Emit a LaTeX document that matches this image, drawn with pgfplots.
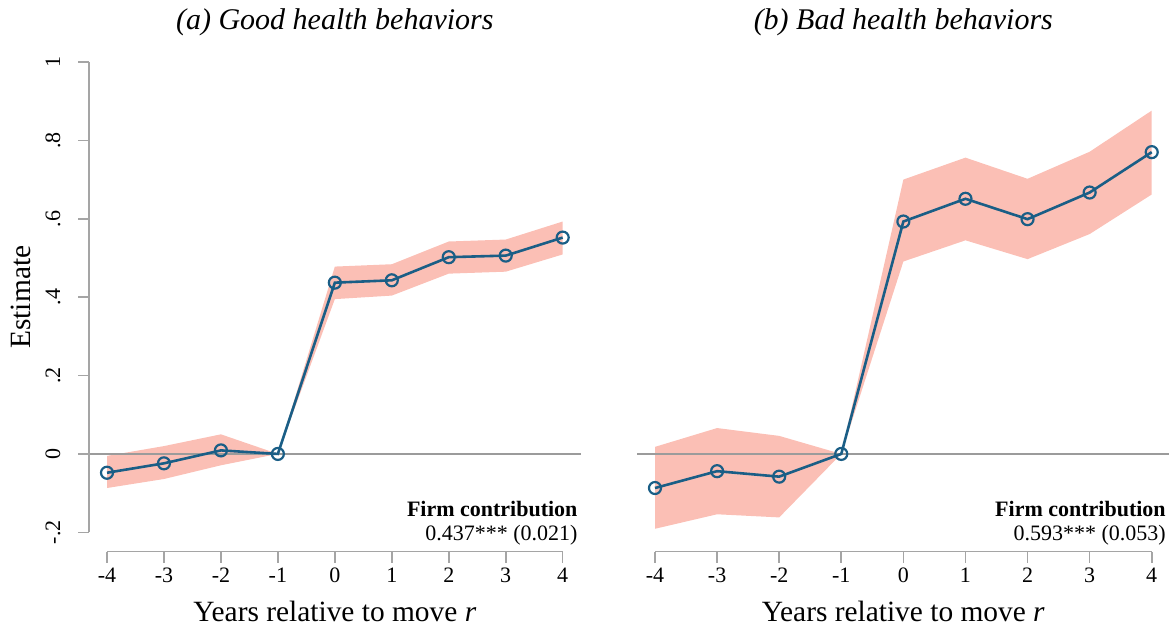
\documentclass[border=0pt]{standalone}
\usepackage{fontspec}
\setmainfont{Liberation Serif}
\usepackage{pgfplots}
\pgfplotsset{compat=1.18}
\usepackage{pgfplotstable}
\usepgfplotslibrary{fillbetween}

\definecolor{linecol}{RGB}{26,94,134}
\definecolor{bandcol}{RGB}{251,191,181}
\definecolor{axcol}{RGB}{165,165,165}
\definecolor{zerocol}{RGB}{155,155,155}

\pgfplotstableread{
x est lo hi
-4 -0.048 -0.087 -0.005
-3 -0.024 -0.064 0.020
-2 0.009 -0.029 0.050
-1 0.000 0.000 0.000
0 0.437 0.395 0.478
1 0.443 0.404 0.484
2 0.502 0.460 0.542
3 0.506 0.465 0.547
4 0.552 0.509 0.593
}\gooddata

\pgfplotstableread{
x est lo hi
-4 -0.087 -0.191 0.018
-3 -0.044 -0.154 0.066
-2 -0.058 -0.162 0.046
-1 0.000 0.000 0.000
0 0.593 0.491 0.700
1 0.651 0.545 0.756
2 0.599 0.497 0.702
3 0.667 0.561 0.771
4 0.770 0.662 0.876
}\baddata

\begin{document}
\begin{tikzpicture}
\pgfplotsset{
  panel/.style={
    scale only axis,
    height=244.75pt,
    ymin=-0.249, ymax=1,
    axis x line*=bottom, axis y line*=left,
    axis line style={draw=none},
    xtick={-4,-3,-2,-1,0,1,2,3,4},
    xticklabels={-4,-3,-2,-1,0,1,2,3,4},
    tick align=outside,
    major tick length=5.5pt,
    tick style={axcol, line width=0.8pt},
    xticklabel style={anchor=base, font=\fontsize{11}{13}\selectfont},
    xticklabel shift=10pt,
    clip=false,
    title style={at={(axis description cs:0.5,1)}, anchor=base, yshift=10.4pt,
      font=\fontsize{15}{18}\selectfont\itshape},
    xlabel style={at={(axis description cs:0.5,0)}, anchor=base, yshift=-35pt,
      font=\fontsize{14.7}{17}\selectfont},
    xlabel={Years relative to move \textit{r}},
  }
}

% ---------------- Panel (a)
\begin{axis}[panel,
  at={(0pt,0pt)}, anchor=south west,
  width=245.85pt,
  xmin=-4.316, xmax=4.316,
  title={(a) Good health behaviors},
  ytick={-0.2,0,0.2,0.4,0.6,0.8,1},
  yticklabels={-.2,0,.2,.4,.6,.8,1},
  yticklabel style={rotate=90, anchor=base, font=\fontsize{11}{13}\selectfont},
  yticklabel shift=9pt,
  ylabel={Estimate},
  ylabel style={at={([xshift=-29pt]axis description cs:0,0.5196)}, anchor=base, rotate=0,
    font=\fontsize{14.7}{17}\selectfont},
]
\addplot[draw=none, name path=hiA, forget plot] table[x=x,y=hi]{\gooddata};
\addplot[draw=none, name path=loA, forget plot] table[x=x,y=lo]{\gooddata};
\addplot[bandcol, draw=none, forget plot] fill between[of=hiA and loA];
\draw[zerocol, line width=0.8pt] (axis cs:-4.316,0) -- (axis cs:4.316,0);
\addplot[linecol, line width=1.3pt, mark=o, mark size=3pt, mark options={line width=1.1pt}] table[x=x,y=est]{\gooddata};
\draw[axcol, line width=0.8pt] (axis cs:-4.316,-0.2) -- (axis cs:-4.316,1);
\draw[axcol, line width=0.8pt] (axis cs:-4,-0.249) -- (axis cs:4,-0.249);
\node[anchor=base east, inner sep=0pt, font=\fontsize{11}{13}\selectfont] at ([xshift=-1.4pt, yshift=5.4pt]rel axis cs:1,0) {0.437*** (0.021)};
\node[anchor=base east, inner sep=0pt, font=\fontsize{11}{13}\selectfont\bfseries] at ([xshift=-1.4pt, yshift=17.4pt]rel axis cs:1,0) {Firm contribution};
\end{axis}

% ---------------- Panel (b)
\begin{axis}[panel,
  at={(274.15pt,0pt)}, anchor=south west,
  width=266pt,
  xmin=-4.285, xmax=4.283,
  title={(b) Bad health behaviors},
  ytick=\empty,
]
\addplot[draw=none, name path=hiB, forget plot] table[x=x,y=hi]{\baddata};
\addplot[draw=none, name path=loB, forget plot] table[x=x,y=lo]{\baddata};
\addplot[bandcol, draw=none, forget plot] fill between[of=hiB and loB];
\draw[zerocol, line width=0.8pt] (axis cs:-4.285,0) -- (axis cs:4.283,0);
\addplot[linecol, line width=1.3pt, mark=o, mark size=3pt, mark options={line width=1.1pt}] table[x=x,y=est]{\baddata};
\draw[axcol, line width=0.8pt] (axis cs:-4,-0.249) -- (axis cs:4,-0.249);
\node[anchor=base east, inner sep=0pt, font=\fontsize{11}{13}\selectfont] at ([xshift=-1.6pt, yshift=5.4pt]rel axis cs:1,0) {0.593*** (0.053)};
\node[anchor=base east, inner sep=0pt, font=\fontsize{11}{13}\selectfont\bfseries] at ([xshift=-1.6pt, yshift=17.4pt]rel axis cs:1,0) {Firm contribution};
\end{axis}

\pgfresetboundingbox
\useasboundingbox (-44.5pt,-38.75pt) rectangle (541.5pt,275.75pt);
\end{tikzpicture}
\end{document}
